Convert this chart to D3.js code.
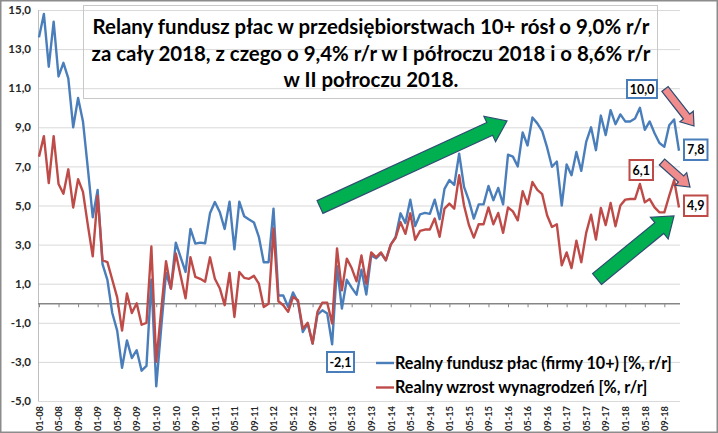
<!DOCTYPE html>
<html><head><meta charset="utf-8">
<script src="https://cdn.jsdelivr.net/npm/d3@7/dist/d3.min.js"></script>
<style>body{margin:0;background:#fff}svg{display:block}</style>
</head><body>
<svg id="c" width="718" height="433"></svg>
<script>
// ---- data ----
const years = ["08","09","10","11","12","13","14","15","16","17","18"];
const monthNums = ["01","02","03","04","05","06","07","08","09","10","11","12"];
const categories = [];
years.forEach(y => monthNums.forEach(m => categories.push(m + "-" + y)));

const tickLabels = ["01-08","05-08","09-08","01-09","05-09","09-09","01-10","05-10","09-10",
  "01-11","05-11","09-11","01-12","05-12","09-12","01-13","05-13","09-13","01-14","05-14","09-14",
  "01-15","05-15","09-15","01-16","05-16","09-16","01-17","05-17","09-17","01-18","05-18","09-18"];

const yTicks = [-5,-3,-1,1,3,5,7,9,11,13,15];

const fundusz = [13.6,14.8,12.1,14.4,11.6,12.3,11.5,9.0,10.5,9.3,6.9,4.4,
  5.8,2.0,1.2,-0.5,-1.4,-3.3,-1.9,-2.8,-2.4,-3.45,-3.2,1.2,
  -4.25,-1.3,1.55,0.75,3.1,2.35,1.6,3.8,3.05,3.1,3.07,4.6,
  5.18,4.67,3.8,5.2,2.76,5.2,4.45,4.28,4.13,3.4,2.1,2.1,
  4.84,0.4,0.4,-0.19,0.55,0.07,-1.47,-1.04,-2.06,-0.58,-0.36,-0.53,
  -2.1,1.9,-0.27,1.2,0.8,0.44,1.72,0.45,2.45,2.3,2.55,2.2,
  3.0,3.4,4.6,4.1,5.3,3.95,4.55,4.62,4.57,5.3,4.3,5.85,
  6.3,6.05,7.65,5.95,5.25,4.33,5.06,5.06,6.0,5.27,5.9,5.06,
  7.6,7.5,7.0,8.74,8.07,9.5,9.2,8.8,7.97,6.98,7.25,5.0,
  7.1,6.55,7.74,6.77,8.25,9.0,7.83,9.6,8.6,9.88,9.16,9.66,
  9.3,9.3,9.45,10.0,8.87,9.3,8.7,8.2,8.0,9.1,9.4,7.8];

const wynagrodzenia = [7.5,8.55,6.15,8.55,6.1,5.6,6.85,4.9,6.35,5.7,4.0,2.4,
  5.5,2.2,2.1,1.2,0.3,-1.4,0.5,-0.5,0.0,-1.1,-1.0,2.9,
  -3.0,-0.4,2.15,0.75,2.55,1.4,0.25,2.35,1.35,1.25,1.1,2.35,
  1.25,0.77,-0.1,1.55,-0.7,1.6,1.3,1.25,1.4,1.0,-0.19,-0.02,
  3.82,0.1,-0.1,-0.44,0.32,0.15,-1.3,-1.0,-2.06,-0.44,0.03,0.03,
  -1.04,2.8,0.66,2.28,1.8,1.12,2.45,1.0,2.6,2.35,2.6,2.2,
  3.0,3.35,4.15,3.55,4.6,3.25,3.7,3.77,3.77,4.33,3.4,4.84,
  5.1,4.84,6.55,5.0,4.0,3.36,4.04,4.04,4.9,4.04,4.62,3.6,
  4.9,4.7,4.24,5.73,5.06,6.2,5.8,5.58,4.5,3.9,4.04,1.94,
  2.6,1.8,3.2,2.1,3.6,4.53,3.26,4.88,4.0,5.13,3.94,5.0,
  5.3,5.33,5.33,6.1,5.16,5.33,4.9,4.65,4.65,5.5,6.3,4.9];

const seriesNames = ["Realny fundusz płac (firmy 10+) [%, r/r]","Realny wzrost wynagrodzeń [%, r/r]"];
const titleLines = ["Relany fundusz płac w przedsiębiorstwach 10+ rósł o 9,0% r/r",
  "za cały 2018, z czego o 9,4% r/r w I półroczu 2018 i o 8,6% r/r",
  "w II połroczu 2018."];

// annotations: [category, value shown, series]
const callouts = [
  {cat:"01-13", text:"-2,1", s:0},
  {cat:"04-18", text:"10,0", s:0},
  {cat:"12-18", text:"7,8", s:0},
  {cat:"04-18", text:"6,1", s:1},
  {cat:"12-18", text:"4,9", s:1}
];

// ---- drawing ----
const W = 718, H = 433;
const colors = ["#4a7ebb", "#be4b48"];
const FONT = "Lato, 'Open Sans', sans-serif";
const svg = d3.select("#c");
svg.append("rect").attr("x",0.75).attr("y",0.75).attr("width",W-1.5).attr("height",H-1.5)
  .attr("fill","#fff").attr("stroke","#8c8c8c").attr("stroke-width",1.5);

const x = d3.scalePoint().domain(categories).range([39, 679]);
const y = d3.scaleLinear().domain([-5, 15]).range([401, 10]);
const plotL = 38, plotR = 680;

// gridlines
const grid = svg.append("g")
  .attr("transform", `translate(${plotL},0)`)
  .call(d3.axisLeft(y).tickValues(yTicks).tickSize(-(plotR - plotL)).tickFormat(""));
grid.select(".domain").remove();
grid.selectAll("line").attr("stroke", "#d9d9d9").attr("stroke-width", 1);

// vertical axis line
svg.append("line").attr("x1", plotL + 0.5).attr("x2", plotL + 0.5).attr("y1", y(15)).attr("y2", y(-5))
  .attr("stroke", "#bfbfbf");

// y labels
const yAx = svg.append("g").attr("transform", `translate(${plotL},0)`)
  .call(d3.axisLeft(y).tickValues(yTicks).tickSize(0).tickPadding(7)
    .tickFormat(d => d.toFixed(1).replace(".", ",")));
yAx.select(".domain").remove();
yAx.selectAll("text").attr("font-family", FONT).attr("font-weight", "bold")
  .attr("font-size", 11.5).attr("fill", "#262626");

// zero axis line with ticks
const tickCats = categories.filter((c, i) => i % 4 === 0);
const zeroAx = svg.append("g").attr("transform", `translate(0,${y(0)})`)
  .call(d3.axisBottom(x).tickValues(tickCats).tickSize(4).tickFormat(""));
zeroAx.select(".domain").attr("d", `M${plotL},0.5H${plotR}`).attr("stroke", "#868686").attr("stroke-width", 1.5);
zeroAx.selectAll(".tick line").attr("stroke", "#868686");

// x labels at bottom, rotated
const xLab = svg.append("g").attr("transform", `translate(0,${y(-5)})`)
  .call(d3.axisBottom(x).tickValues(tickCats).tickSize(0)
    .tickFormat((d, i) => tickLabels[i]));
xLab.select(".domain").remove();
xLab.selectAll("text")
  .attr("font-family", FONT).attr("font-weight", "bold").attr("font-size", 9.3).attr("fill", "#262626")
  .attr("text-anchor", "end").attr("transform", "rotate(-90)")
  .attr("x", -5).attr("y", 0).attr("dy", "0.35em");

// lines
const line = d3.line().x((d, i) => x(categories[i])).y(d => y(d));
[fundusz, wynagrodzenia].forEach((s, k) => {
  svg.append("path").datum(s).attr("d", line).attr("fill", "none")
    .attr("stroke", colors[k]).attr("stroke-width", 2.4).attr("stroke-linejoin", "round");
});

// title box (transparent)
svg.append("rect").attr("x", 83.5).attr("y", 5.5).attr("width", 574).attr("height", 93)
  .attr("fill", "none").attr("stroke", "#c8c8c8").attr("stroke-width", 1);
const titleBase = [34, 60.7, 87.3];
titleLines.forEach((t, i) => {
  svg.append("text").attr("class", "ttl").attr("x", 371).attr("y", titleBase[i]).attr("text-anchor", "middle")
    .attr("font-family", FONT).attr("font-weight", "bold").attr("font-size", 17).attr("fill", "#000").text(t);
});
{
  const t0 = svg.select("text.ttl");
  const w = t0.node().getComputedTextLength();
  svg.selectAll("text.ttl").attr("font-size", 17 * 557 / w);
}

// legend
const legY = [363, 387.5];
seriesNames.forEach((n, k) => {
  svg.append("line").attr("x1", 376).attr("x2", 394).attr("y1", legY[k]).attr("y2", legY[k])
    .attr("stroke", colors[k]).attr("stroke-width", 2.4);
  svg.append("text").attr("class", "leg").attr("x", 395).attr("y", legY[k]).attr("dy", "0.36em")
    .attr("font-family", FONT).attr("font-weight", "bold").attr("font-size", 15).attr("fill", "#000").text(n);
});
{
  const l0 = svg.select("text.leg");
  const w = l0.node().getComputedTextLength();
  svg.selectAll("text.leg").attr("font-size", 15 * 277 / w);
}

// arrows
function arrow(x1, y1, x2, y2, sw, hw, hl, fill) {
  const dx = x2 - x1, dy = y2 - y1, L = Math.hypot(dx, dy);
  const ux = dx / L, uy = dy / L, nx = -uy, ny = ux;
  const bx = x2 - ux * hl, by = y2 - uy * hl;
  const pts = [
    [x1 + nx * sw / 2, y1 + ny * sw / 2],
    [bx + nx * sw / 2, by + ny * sw / 2],
    [bx + nx * hw / 2, by + ny * hw / 2],
    [x2, y2],
    [bx - nx * hw / 2, by - ny * hw / 2],
    [bx - nx * sw / 2, by - ny * sw / 2],
    [x1 - nx * sw / 2, y1 - ny * sw / 2]
  ];
  svg.append("polygon").attr("points", pts.map(p => p.join(",")).join(" "))
    .attr("fill", fill).attr("stroke", "#2e4d73").attr("stroke-width", 1.2).attr("stroke-linejoin", "miter");
}
arrow(320, 207, 507, 121, 14, 28, 19, "#00b050");
arrow(597, 279, 674, 216, 14, 28, 19, "#00b050");
arrow(665, 89, 694, 126, 8, 17, 12, "#f08c8c");
arrow(662, 162, 690, 187, 8, 17, 12, "#f08c8c");

// callout boxes
const boxPos = {"-2,1": [327, 352, 27, 20], "10,0": [627, 80, 30, 18], "7,8": [684, 139.5, 23.5, 20.5],
  "6,1": [629.5, 160, 23.5, 20], "4,9": [684, 195.5, 23.5, 20.5]};
callouts.forEach(c => {
  const [bx, by, bw, bh] = boxPos[c.text];
  svg.append("rect").attr("x", bx).attr("y", by).attr("width", bw).attr("height", bh)
    .attr("fill", "#fff").attr("stroke", colors[c.s]).attr("stroke-width", 2);
  svg.append("text").attr("x", bx + bw / 2).attr("y", by + bh / 2).attr("dy", "0.36em")
    .attr("text-anchor", "middle").attr("font-family", FONT).attr("font-weight", "bold")
    .attr("font-size", 12.5).attr("fill", "#000").text(c.text);
});
</script>
</body></html>
